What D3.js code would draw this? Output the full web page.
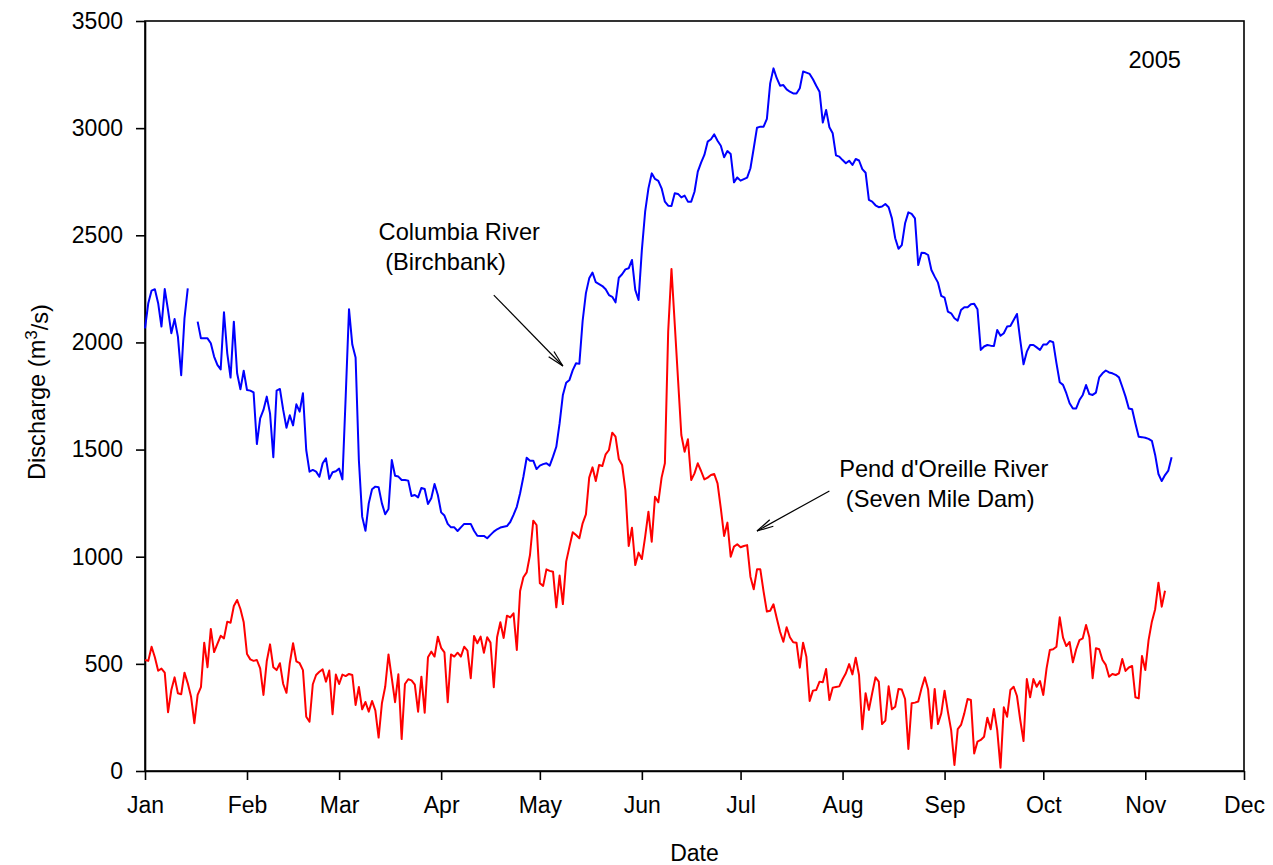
<!DOCTYPE html>
<html>
<head>
<meta charset="utf-8">
<script src="https://cdn.jsdelivr.net/npm/d3@7"></script>
<style>
  html, body { margin: 0; padding: 0; background: #fff; }
  svg text { font-family: "Liberation Sans", Arial, Helvetica, sans-serif; fill: #000; }
</style>
</head>
<body>
<svg id="chart" width="1273" height="865"></svg>
<script>
// Daily mean discharge (m3/s), one value per day starting 1 January 2005.
const seriesStart = new Date(2005, 0, 1);
const axisEnd = new Date(2005, 11, 1);
const monthLabels = ["Jan", "Feb", "Mar", "Apr", "May", "Jun", "Jul", "Aug", "Sep", "Oct", "Nov", "Dec"];
const yTicks = [0, 500, 1000, 1500, 2000, 2500, 3000, 3500];
const yearLabel = "2005";

// Columbia River at Birchbank (null = missing record)
const columbia = [
  2066, 2183, 2242, 2248, 2183, 2074, 2249, 2151, 2043, 2109, 2027, 1847, 2112, 2252,
  null, null,
  2097, 2019, 2019, 2019, 1996, 1934, 1895, 1874, 2141, 1949, 1836, 2097, 1856, 1781, 1868, 1778, 1775, 1767,
  1526, 1646, 1685, 1747, 1669, 1464, 1775, 1783, 1685, 1602, 1660, 1613, 1711, 1677, 1763, 1498, 1397, 1405,
  1397, 1373, 1436, 1459, 1363, 1394, 1399, 1411, 1361, 1750,
  2155, 1990, 1930, 1450, 1187,
  1121, 1249, 1315, 1327, 1324, 1249, 1198, 1223, 1451, 1378, 1374, 1358, 1358, 1355, 1283, 1288, 1277, 1321,
  1316, 1246, 1273, 1339, 1288, 1207, 1192, 1153, 1137, 1137, 1120, 1137, 1153, 1153, 1153, 1121, 1098, 1097,
  1097, 1086, 1102, 1117,
  1128, 1136, 1140, 1143, 1162, 1195, 1233, 1296, 1373, 1462, 1448, 1448, 1409, 1425, 1432, 1436, 1425, 1467,
  1513, 1622, 1755, 1812, 1825, 1871, 1903, 1900,
  2100, 2230, 2299, 2326, 2281, 2272, 2263, 2248, 2221, 2213, 2187, 2302, 2318, 2341, 2346, 2385, 2245, 2198,
  2431, 2610, 2719, 2789, 2763, 2754, 2719, 2657, 2638, 2637, 2696, 2693, 2677, 2685, 2657, 2657, 2703, 2797,
  2839, 2875, 2937, 2948, 2971, 2941, 2918, 2864, 2893, 2879, 2747, 2770, 2755, 2762, 2769, 2813, 2906, 3002,
  3007, 3007, 3043, 3209, 3279, 3233, 3198, 3201, 3181, 3170, 3162, 3162, 3186, 3264, 3259, 3253,
  3228, 3198, 3170, 3026, 3085, 3004, 2976, 2873, 2867, 2851, 2836, 2848, 2828, 2856, 2849, 2809, 2792, 2665,
  2657, 2640, 2631, 2634, 2646, 2631, 2579, 2486, 2437, 2454, 2556, 2607, 2600, 2579, 2361, 2419, 2417, 2408,
  2338, 2307, 2279, 2217, 2209, 2144, 2136, 2113, 2102, 2151, 2164, 2164, 2178, 2180, 2155, 1965, 1981, 1988,
  1985, 1983, 2058, 2031, 2043, 2074, 2077, 2105, 2133,
  2011, 1898, 1957, 1988, 1988, 1977, 1965, 1990, 1990, 2007, 2001, 1903, 1814, 1802, 1763, 1716, 1692, 1692,
  1731, 1755, 1801, 1759, 1755, 1766, 1837, 1856, 1869, 1860, 1856, 1849, 1837, 1793, 1747, 1692, 1688, 1622,
  1560, 1558, 1555, 1550, 1541, 1475, 1386, 1353, 1381, 1402, 1464
];

// Pend d'Oreille River below Seven Mile Dam
const pendOreille = [
  518, 514, 580, 531, 468, 478, 459, 274, 378, 437, 363, 358, 459, 409, 347, 223, 355, 391, 599, 484,
  663, 555, 593, 631, 619, 697, 692, 770, 798, 756, 694, 546, 521, 514, 518, 479, 355, 512, 591, 484,
  471, 503, 406, 365, 503, 596, 512, 503, 471, 253, 230, 405, 448, 463, 474, 417, 469, 265, 450, 406,
  450, 443, 453, 448, 308, 392,
  288, 322, 277, 327, 283, 156, 316, 393, 544, 433, 321, 451, 149, 406, 428, 423, 403, 277, 440, 272,
  531, 557, 534, 627, 575, 554, 321, 544, 534, 552, 534, 580, 562, 433, 630, 596, 627, 552, 624, 599,
  391, 624, 694, 621, 725, 717, 736, 565, 840, 904, 927, 1008, 1168, 1148, 876, 864, 941, 934, 930, 764,
  912, 779, 977, 1047,
  1114, 1101, 1086, 1156, 1198, 1369, 1417, 1353, 1428, 1423, 1478, 1498, 1579, 1560, 1456, 1428, 1311, 1050,
  1135, 961, 1019, 989, 1093, 1210, 1070, 1280, 1254, 1369, 1436, 2050, 2343,
  2085, 1826, 1568, 1490, 1548, 1358, 1389, 1436, 1400, 1361, 1369, 1381, 1386, 1342, 1226, 1097, 1159, 1000,
  1047, 1058, 1044, 1050, 1054, 907, 848, 941, 941, 837, 744,
  748, 778, 713, 650, 603, 671, 624, 601, 599, 482, 599, 533, 327, 375, 378, 417, 414, 476, 331, 389,
  392, 395, 428, 456, 499, 451, 529, 448, 195, 363, 285, 363, 437, 417, 219, 235, 395, 288, 300, 383,
  380, 336, 103, 316, 319, 324, 386, 437, 380, 199, 383, 219, 269, 375, 277, 191, 28, 195, 215, 269,
  336, 331, 82, 137, 145, 160, 249, 195, 289, 191, 15,
  297, 253, 378, 393, 350, 238, 140, 429, 344, 429, 393, 420, 355, 479, 565, 568, 580, 717, 622, 583,
  602, 507, 568, 611, 619, 681, 624, 433, 573, 568, 518, 495, 440, 453, 448, 456, 523, 467, 483, 490,
  344, 339, 537, 471, 611, 697, 755, 879, 767, 841
];

// Callouts, anchored in data space: [day offset from 1 Jan, discharge]
const callouts = [
  { lines: ["Columbia River", " (Birchbank)"], at: [71.1, 2478], from: [106.4, 2221], to: [127, 1890] },
  { lines: ["Pend d'Oreille River", " (Seven Mile Dam)"], at: [211.1, 1370], from: [208.8, 1307], to: [186.3, 1120] }
];

const W = 1273, H = 865;
const margin = { top: 21, right: 29, bottom: 94, left: 145 };
const svg = d3.select("#chart");

const x = d3.scaleTime()
  .domain([seriesStart, axisEnd])
  .range([margin.left, W - margin.right]);
const y = d3.scaleLinear()
  .domain([0, 3500])
  .range([H - margin.bottom, margin.top]);

const dayToDate = i => d3.timeDay.offset(seriesStart, i);
const toPoints = arr => arr.map((v, i) => ({ date: dayToDate(i), v }));

const tickFont = 23;
const labelFont = 23.6;

// Axes
const monthTicks = d3.timeMonth.range(seriesStart, d3.timeDay.offset(axisEnd, 1));
const xAxis = d3.axisBottom(x)
  .tickValues(monthTicks)
  .tickFormat(d => monthLabels[d.getMonth()])
  .tickSize(9)
  .tickSizeOuter(0)
  .tickPadding(17);
const yAxis = d3.axisLeft(y)
  .tickValues(yTicks)
  .tickFormat(d3.format("d"))
  .tickSize(9)
  .tickSizeOuter(0)
  .tickPadding(13);

const gx = svg.append("g")
  .attr("transform", `translate(0,${H - margin.bottom})`)
  .call(xAxis);
const gy = svg.append("g")
  .attr("transform", `translate(${margin.left},0)`)
  .call(yAxis);

[gx, gy].forEach(g => {
  g.selectAll("text").style("font-size", tickFont + "px").attr("fill", "#000");
  g.selectAll("line").attr("stroke", "#000").attr("stroke-width", 1.6);
  g.select(".domain").attr("stroke", "#000").attr("stroke-width", 1.6);
});

// Plot frame
svg.append("rect")
  .attr("x", x.range()[0])
  .attr("y", y.range()[1])
  .attr("width", x.range()[1] - x.range()[0])
  .attr("height", y.range()[0] - y.range()[1])
  .attr("fill", "none")
  .attr("stroke", "#000")
  .attr("stroke-width", 1.6);

// Series
const line = d3.line()
  .defined(d => d.v != null)
  .x(d => x(d.date))
  .y(d => y(d.v));

svg.append("path")
  .datum(toPoints(columbia))
  .attr("fill", "none")
  .attr("stroke", "#0000ff")
  .attr("stroke-width", 2)
  .attr("stroke-linejoin", "round")
  .attr("d", line);

svg.append("path")
  .datum(toPoints(pendOreille))
  .attr("fill", "none")
  .attr("stroke", "#ff0000")
  .attr("stroke-width", 2)
  .attr("stroke-linejoin", "round")
  .attr("d", line);

// Axis titles
svg.append("text")
  .attr("x", (x.range()[0] + x.range()[1]) / 2)
  .attr("y", 861)
  .attr("text-anchor", "middle")
  .style("font-size", tickFont + "px")
  .text("Date");

const yTitle = svg.append("text")
  .attr("transform", `translate(45,${(y.range()[0] + y.range()[1]) / 2 - 4}) rotate(-90)`)
  .attr("text-anchor", "middle")
  .style("font-size", labelFont + "px");
yTitle.append("tspan").text("Discharge (m");
yTitle.append("tspan").attr("dy", "-0.45em").style("font-size", "17px").text("3");
yTitle.append("tspan").attr("dy", "0.45em").text("/s)");

// Year label
svg.append("text")
  .attr("x", 1181)
  .attr("y", 68)
  .attr("text-anchor", "end")
  .style("font-size", labelFont + "px")
  .text(yearLabel);

// Callouts with open arrowheads
callouts.forEach(c => {
  const tx = x(dayToDate(c.at[0]));
  const t = svg.append("text")
    .attr("x", tx)
    .attr("y", y(c.at[1]))
    .style("font-size", labelFont + "px")
    .style("white-space", "pre")
    .attr("xml:space", "preserve");
  c.lines.forEach((s, i) => {
    t.append("tspan")
      .attr("x", tx)
      .attr("dy", i === 0 ? 0 : 30)
      .text(s);
  });

  const x0 = x(dayToDate(c.from[0])), y0 = y(c.from[1]);
  const x1 = x(dayToDate(c.to[0])), y1 = y(c.to[1]);
  svg.append("line")
    .attr("x1", x0).attr("y1", y0).attr("x2", x1).attr("y2", y1)
    .attr("stroke", "#000").attr("stroke-width", 1.2);
  const ang = Math.atan2(y1 - y0, x1 - x0);
  const len = 17, spread = 0.22;
  [ang + Math.PI - spread, ang + Math.PI + spread].forEach(a => {
    svg.append("line")
      .attr("x1", x1).attr("y1", y1)
      .attr("x2", x1 + len * Math.cos(a)).attr("y2", y1 + len * Math.sin(a))
      .attr("stroke", "#000").attr("stroke-width", 1.2);
  });
});
</script>
</body>
</html>
